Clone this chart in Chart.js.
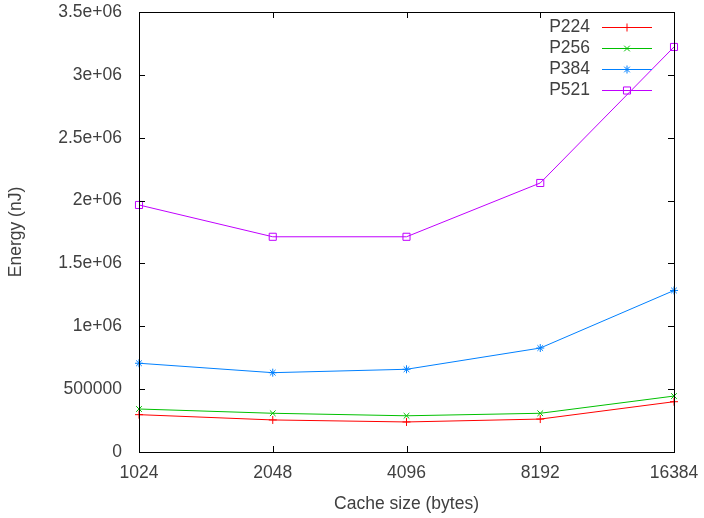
<!DOCTYPE html>
<html>
<head>
<meta charset="utf-8">
<script src="https://cdn.jsdelivr.net/npm/chart.js@4.4.1/dist/chart.umd.min.js"></script>
<style>
  html, body { margin: 0; padding: 0; background: #fff; }
  #wrap { width: 704px; height: 518px; }
</style>
</head>
<body>
<div id="wrap"><canvas id="myChart" width="704" height="518"></canvas></div>
<script>
// data
const cacheSizes = ['1024', '2048', '4096', '8192', '16384'];
const p224 = [297000, 255000, 239000, 262000, 400000];
const p256 = [342000, 308000, 288000, 308000, 445000];
const p384 = [706000, 631000, 658000, 827000, 1285000];
const p521 = [1965000, 1712000, 1712000, 2140000, 3222000];
const yTickLabels = ['0', '500000', '1e+06', '1.5e+06', '2e+06', '2.5e+06', '3e+06', '3.5e+06'];

const textColor = '#404040';
const fontFamily = '"Liberation Sans", Arial, sans-serif';
const fontSize = 17.5;

// gnuplot style frame: box round the plot with ticks pointing in on all sides
const framePlugin = {
    id: 'frame',
    afterDatasetsDraw(chart) {
        const ctx = chart.ctx;
        const a = chart.chartArea;
        const xs = chart.scales.x;
        const ys = chart.scales.y;
        const len = 6;
        ctx.save();
        ctx.strokeStyle = '#000';
        ctx.lineWidth = 1;
        ctx.beginPath();
        for (let i = 0; i < xs.ticks.length; i++) {
            const px = Math.round(xs.getPixelForTick(i)) + 0.5;
            ctx.moveTo(px, a.bottom); ctx.lineTo(px, a.bottom - len);
            ctx.moveTo(px, a.top); ctx.lineTo(px, a.top + len);
        }
        for (let i = 0; i < ys.ticks.length; i++) {
            const py = Math.round(ys.getPixelForTick(i)) + 0.5;
            ctx.moveTo(a.left, py); ctx.lineTo(a.left + len, py);
            ctx.moveTo(a.right, py); ctx.lineTo(a.right - len, py);
        }
        ctx.stroke();
        ctx.strokeRect(Math.round(a.left) + 0.5, Math.round(a.top) + 0.5,
                       Math.round(a.right - a.left), Math.round(a.bottom - a.top));
        ctx.restore();
    }
};

// legend in the top right corner, text right-aligned then a sample line
const keyPlugin = {
    id: 'key',
    afterDatasetsDraw(chart) {
        const ctx = chart.ctx;
        const a = chart.chartArea;
        ctx.save();
        ctx.font = fontSize + 'px ' + fontFamily;
        ctx.textAlign = 'right';
        ctx.textBaseline = 'middle';
        chart.data.datasets.forEach((ds, i) => {
            const y = a.top + 15 + i * 21;
            const x1 = a.right - 72;
            const x2 = a.right - 22;
            ctx.fillStyle = textColor;
            ctx.fillText(ds.label, a.right - 84, y);
            ctx.strokeStyle = ds.borderColor;
            ctx.lineWidth = 1;
            ctx.beginPath();
            ctx.moveTo(x1, y + 0.5); ctx.lineTo(x2, y + 0.5);
            ctx.stroke();
            ctx.fillStyle = 'rgba(0,0,0,0)';
            Chart.helpers.drawPoint(ctx, {
                pointStyle: ds.pointStyle, radius: ds.pointRadius, borderWidth: 1
            }, (x1 + x2) / 2, y + 0.5);
        });
        ctx.restore();
    }
};

function series(label, data, color, style, radius) {
    return {
        label: label,
        data: data,
        borderColor: color,
        backgroundColor: 'rgba(0,0,0,0)',
        pointBorderColor: color,
        borderWidth: 1,
        pointStyle: style,
        pointRadius: radius,
        pointBorderWidth: 1,
        tension: 0
    };
}

const ctx = document.getElementById('myChart').getContext('2d');
const myChart = new Chart(ctx, {
    type: 'line',
    data: {
        labels: cacheSizes,
        datasets: [
            series('P224', p224, '#ff0000', 'cross', 4),
            series('P256', p256, '#00c000', 'crossRot', 4),
            series('P384', p384, '#0080ff', 'star', 4),
            series('P521', p521, '#c000ff', 'rect', 5)
        ]
    },
    options: {
        responsive: false,
        animation: false,
        layout: { padding: { top: 12, right: 30, left: 0, bottom: 0 } },
        plugins: {
            legend: { display: false },
            tooltip: { enabled: false }
        },
        scales: {
            x: {
                offset: false,
                grid: { display: false, drawTicks: false },
                border: { display: false },
                ticks: { color: textColor, font: { family: fontFamily, size: fontSize }, padding: 11, maxRotation: 0 },
                title: { display: true, text: 'Cache size (bytes)', color: textColor,
                         font: { family: fontFamily, size: fontSize }, padding: { top: 4, bottom: 3 } },
                afterFit(scale) {
                    scale.height = 66;
                    scale.paddingLeft = 0;
                    scale.paddingRight = 0;
                }
            },
            y: {
                min: 0,
                max: 3500000,
                grid: { display: false, drawTicks: false },
                border: { display: false },
                ticks: {
                    stepSize: 500000,
                    color: textColor,
                    font: { family: fontFamily, size: fontSize },
                    padding: 17,
                    callback: (v, i) => yTickLabels[i]
                },
                title: { display: true, text: 'Energy (nJ)', color: textColor,
                         font: { family: fontFamily, size: fontSize }, padding: { top: 6, bottom: 4 } },
                afterFit(scale) {
                    scale.width = 139;
                    scale.paddingTop = 0;
                    scale.paddingBottom = 0;
                }
            }
        }
    },
    plugins: [framePlugin, keyPlugin]
});
</script>
</body>
</html>
